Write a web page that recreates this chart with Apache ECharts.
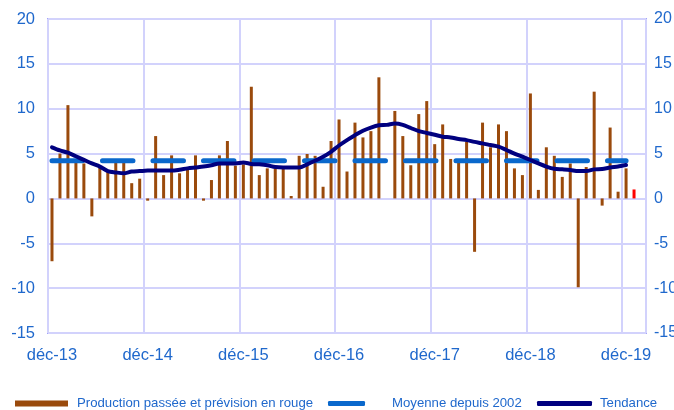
<!DOCTYPE html>
<html>
<head>
<meta charset="utf-8">
<script src="https://cdn.jsdelivr.net/npm/echarts@6/dist/echarts.min.js"></script>
<style>html,body{margin:0;padding:0;background:#fff}#chart{width:674px;height:410px}</style>
</head>
<body>
<div id="chart"></div>
<script>
var categories = [
  "déc-13",
  "janv-14","févr-14","mars-14","avr-14","mai-14","juin-14","juil-14","août-14","sept-14","oct-14","nov-14","déc-14",
  "janv-15","févr-15","mars-15","avr-15","mai-15","juin-15","juil-15","août-15","sept-15","oct-15","nov-15","déc-15",
  "janv-16","févr-16","mars-16","avr-16","mai-16","juin-16","juil-16","août-16","sept-16","oct-16","nov-16","déc-16",
  "janv-17","févr-17","mars-17","avr-17","mai-17","juin-17","juil-17","août-17","sept-17","oct-17","nov-17","déc-17",
  "janv-18","févr-18","mars-18","avr-18","mai-18","juin-18","juil-18","août-18","sept-18","oct-18","nov-18","déc-18",
  "janv-19","févr-19","mars-19","avr-19","mai-19","juin-19","juil-19","août-19","sept-19","oct-19","nov-19","déc-19",
  "janv-20","févr-20"
];
var production = [
  -7.0, 5.0, 10.4, 4.1, 3.9, -2.0, 3.5, 3.0, 4.1, 4.1, 1.7, 2.2,
  -0.25, 6.95, 2.6, 4.8, 2.8, 3.2, 4.8, -0.25, 2.05, 4.8, 6.4, 3.65,
  3.8, 12.45, 2.6, 3.35, 3.3, 3.3, 0.27, 4.75, 4.95, 4.75, 1.3, 6.4,
  8.8, 3.0, 8.45, 6.8, 7.5, 13.5, 0.0, 9.75, 6.95, 3.7, 9.4, 10.85,
  6.05, 8.25, 4.4, 4.2, 6.3, -5.95, 8.45, 5.7, 8.25, 7.5, 3.35, 2.6,
  11.7, 0.95, 5.7, 4.75, 2.4, 3.9, -9.9, 3.5, 11.9, -0.8, 7.9, 0.75,
  3.35, 1.0
];
var forecastCategory = "janv-20";
var tendance = [
  5.7, 5.35, 5.1, 4.7, 4.3, 3.9, 3.55, 3.05, 2.9, 2.8, 3.0, 3.05,
  3.1, 3.1, 3.1, 3.1, 3.2, 3.35, 3.45, 3.55, 3.7, 3.9, 3.9, 3.9,
  4.0, 3.85, 3.8, 3.7, 3.5, 3.45, 3.45, 3.45, 3.8, 4.2, 4.65, 5.2,
  5.9, 6.5, 7.05, 7.55, 7.9, 8.15, 8.2, 8.35, 8.2, 7.85, 7.5, 7.3,
  7.1, 6.88, 6.8, 6.62, 6.5, 6.3, 6.14, 5.95, 5.77, 5.4, 5.0, 4.65,
  4.28, 3.9, 3.55, 3.3, 3.24, 3.17, 3.05, 3.05, 3.24, 3.28, 3.45, 3.55,
  3.72
];
var moyenne = [["déc-13", 4.2], ["déc-19", 4.2]];
var yTicks = { min: -15, max: 20, interval: 5 };

var BROWN = '#9A4A0C', BLUE = '#0A68CC', NAVY = '#00007F', LABEL = '#1F68CC';
var FONT = 'Liberation Sans, Arial, sans-serif';

var barData = production.map(function (v, i) {
  if (categories[i] === forecastCategory) {
    return { value: v, itemStyle: { color: '#FF0000' } };
  }
  return v;
});

var chart = echarts.init(document.getElementById('chart'), null, { renderer: 'canvas' });
chart.setOption({
  animation: false,
  backgroundColor: '#fff',
  grid: { left: 48, right: 28, top: 19, bottom: 77, containLabel: false, outerBoundsMode: 'none',
          show: true, borderColor: '#A3A3FA', borderWidth: 2, backgroundColor: 'transparent' },
  legend: [
    { data: ['Production passée et prévision en rouge'], left: 15, top: 397, padding: 0, icon: 'rect', itemWidth: 53, itemHeight: 6,
      textStyle: { color: LABEL, fontSize: 13.2, fontFamily: FONT, padding: [0, 0, 0, 4] } },
    { data: ['Moyenne depuis 2002'], left: 328, top: 397, padding: 0, icon: 'roundRect', itemWidth: 37, itemHeight: 5,
      textStyle: { color: LABEL, fontSize: 13.2, fontFamily: FONT, padding: [0, 0, 0, 22] } },
    { data: ['Tendance'], left: 537, top: 397, padding: 0, icon: 'roundRect', itemWidth: 55, itemHeight: 5,
      textStyle: { color: LABEL, fontSize: 13.2, fontFamily: FONT, padding: [0, 0, 0, 3] } }
  ],
  xAxis: {
    type: 'category', data: categories, boundaryGap: true,
    axisLine: { show: false, onZero: false }, axisTick: { show: false },
    axisLabel: { interval: 11, color: LABEL, fontSize: 16.5, fontFamily: FONT, margin: 14 },
    splitLine: { show: true, interval: 11, lineStyle: { color: '#D2D2FC', width: 2 } }
  },
  yAxis: [
    { type: 'value', min: yTicks.min, max: yTicks.max, interval: yTicks.interval, position: 'left',
      axisLine: { show: false }, axisTick: { show: false },
      axisLabel: { color: LABEL, fontSize: 16.5, fontFamily: FONT, margin: 13 },
      splitLine: { show: true, lineStyle: { color: '#D2D2FC', width: 2 } } },
    { type: 'value', min: yTicks.min, max: yTicks.max, interval: yTicks.interval, position: 'right',
      axisLine: { show: false }, axisTick: { show: false },
      axisLabel: { color: LABEL, fontSize: 16, fontFamily: FONT, margin: 8 },
      splitLine: { show: false } }
  ],
  series: [
    { name: 'Production passée et prévision en rouge', type: 'bar', data: barData, barWidth: 3,
      itemStyle: { color: BROWN }, z: 2 },
    { name: 'Moyenne depuis 2002', type: 'line', data: moyenne, showSymbol: false, symbol: 'none',
      itemStyle: { color: BLUE },
      lineStyle: { color: BLUE, width: 5, type: [30.5, 20], cap: 'round' }, z: 3 },
    { name: 'Tendance', type: 'line', data: tendance, showSymbol: false, symbol: 'none', smooth: 0.3,
      itemStyle: { color: NAVY },
      lineStyle: { color: NAVY, width: 4, cap: 'round', join: 'round' }, z: 4 }
  ]
});
</script>
</body>
</html>
